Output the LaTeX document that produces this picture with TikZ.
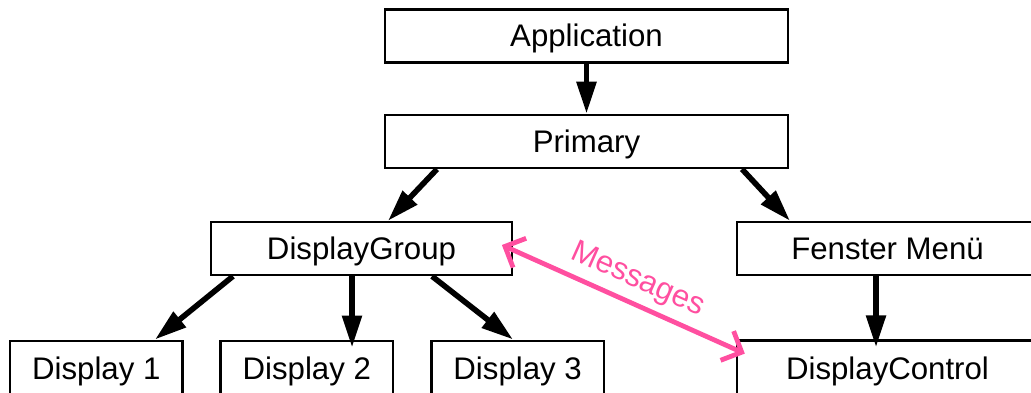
\documentclass[tikz,border=0pt]{standalone}
\usepackage{fontspec}
\setmainfont{Liberation Sans}
\usetikzlibrary{arrows.meta}
\definecolor{msgpink}{RGB}{255,79,160}

\begin{document}
\begin{tikzpicture}[x=0.5pt,y=-0.5pt,>={Triangle[length=16pt,width=9.5pt]},
    box/.style={draw,line width=1.2pt,inner sep=0pt,minimum height=26.5pt,
      text height=12.4pt,text depth=1.6pt,font=\fontsize{15.6}{18}\selectfont},
    widebox/.style={box,minimum width=150.5pt},
    smallbox/.style={box,minimum width=86.3pt},
    arr/.style={->,draw,line width=2.8pt},
    msg/.style={{Straight Barb[length=8pt,width=16pt]}-{Straight Barb[length=8pt,width=16pt]},
      draw,msgpink,line width=2.4pt}]
                \useasboundingbox (0,0) rectangle (1031,392);
                \node[box, minimum width=201.5pt] (app) at (586.5,35.8) {Application};
                \node[box, minimum width=201.5pt] (prim) at (586.5,141.4) {Primary};
                \node[widebox] (grp) at (361.5,248.5) {DisplayGroup};
                \node[widebox] (fen) at (887.5,248.5) {Fenster Menü};
                \node[smallbox, minimum height=28pt] (d1) at (96.3,368.7) {Display 1};
                \node[smallbox, minimum height=28pt] (d2) at (306.8,368.7) {Display 2};
                \node[smallbox, minimum height=28pt] (d3) at (517.6,368.7) {Display 3};
                \node[widebox, minimum height=28pt] (ctl) at (887.5,368.5) {DisplayControl};

                \path
                (app.south) edge[arr] (prim.north)
                ([xshift=-74.75pt]prim.south) edge[arr] ([xshift=13.25pt]grp.north)
                ([xshift=77.75pt]prim.south) edge[arr] ([xshift=-48.75pt]fen.north)
                ([xshift=-64.25pt]grp.south) edge[arr] ([xshift=29.35pt]d1.north)
                ([xshift=-4.75pt]grp.south) edge[arr] ([xshift=22.6pt,yshift=-4pt]d2.north)
                ([xshift=35.25pt]grp.south) edge[arr] ([xshift=-2.3pt]d3.north)
                ([xshift=-5.75pt]fen.south) edge[arr] ([xshift=-5.75pt,yshift=-4pt]ctl.north)
                ([xshift=-5.65pt,yshift=1.75pt]grp.east) edge[msg]
                    node[sloped,above,pos=0.52,font=\fontsize{15.6}{18}\selectfont] {Messages}
                    ([xshift=4.5pt,yshift=-7.15pt]ctl.north west)
                ;
            \end{tikzpicture}
\end{document}
